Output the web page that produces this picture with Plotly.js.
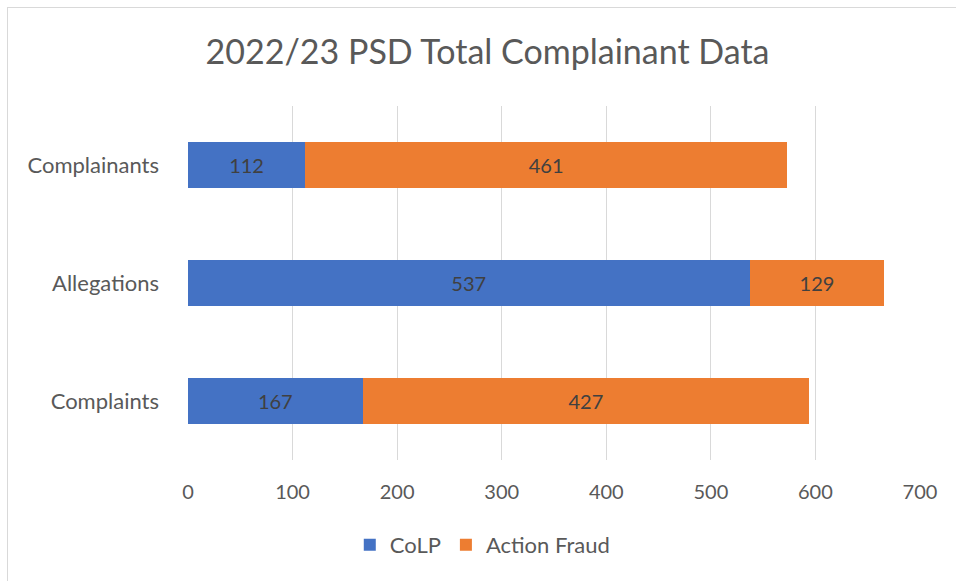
<!DOCTYPE html>
<html>
<head>
<meta charset="utf-8">
<script src="https://cdn.plot.ly/plotly-3.0.1.min.js"></script>
<style>
html,body{margin:0;padding:0;background:#fff;overflow:hidden;}
#chart{width:956px;height:581px;}
#frame{position:absolute;left:7px;top:7px;width:1000px;height:600px;border:1px solid #D9D9D9;pointer-events:none;}
</style>
</head>
<body>
<div id="chart"></div>
<div id="frame"></div>
<script>
const categories = ["Complaints", "Allegations", "Complainants"];
const colpValues = [167, 537, 112];
const actionFraudValues = [427, 129, 461];
const xTicks = [0, 100, 200, 300, 400, 500, 600, 700];

const FONT = "Lato, 'Open Sans', sans-serif";
const textCol = "#595959";

const traces = [
  {
    type: "bar", orientation: "h", name: "CoLP",
    y: categories, x: colpValues,
    marker: {color: "#4472C4"},
    text: colpValues.map(String), textposition: "inside", insidetextanchor: "middle",
    textfont: {family: FONT, size: 20, color: "#404040"},
    hoverinfo: "skip"
  },
  {
    type: "bar", orientation: "h", name: "Action Fraud",
    y: categories, x: actionFraudValues,
    marker: {color: "#ED7D31"},
    text: actionFraudValues.map(String), textposition: "inside", insidetextanchor: "middle",
    textfont: {family: FONT, size: 20, color: "#404040"},
    hoverinfo: "skip"
  }
];

const layout = {
  width: 956, height: 581,
  margin: {l: 188, r: 36, t: 106, b: 121},
  barmode: "stack",
  bargap: 0.605,
  paper_bgcolor: "#fff", plot_bgcolor: "#fff",
  font: {family: FONT, color: textCol, size: 20},
  title: {
    text: "2022/23 PSD Total Complainant Data",
    font: {family: FONT, size: 34, color: textCol},
    xref: "container", x: 0.51, xanchor: "center",
    yref: "container", y: 0.91, yanchor: "middle"
  },
  xaxis: {
    range: [0, 700], tickvals: xTicks, ticktext: xTicks.map(String),
    showgrid: true, gridcolor: "#D9D9D9", gridwidth: 1,
    zeroline: false, showline: false, ticks: "",
    ticklabelstandoff: 18,
    tickfont: {family: FONT, size: 20, color: textCol},
    fixedrange: true
  },
  yaxis: {
    type: "category", showgrid: false, zeroline: false, showline: false,
    ticks: "", ticklabelstandoff: 28,
    tickfont: {family: FONT, size: 22, color: textCol},
    fixedrange: true
  },
  showlegend: true,
  legend: {
    orientation: "h", xref: "container", yref: "container",
    x: 0.505, xanchor: "center", y: 0.062, yanchor: "middle",
    font: {family: FONT, size: 22, color: textCol},
    itemwidth: 30, traceorder: "normal"
  }
};

Plotly.newPlot("chart", traces, layout, {displayModeBar: false, staticPlot: true});
</script>
</body>
</html>
